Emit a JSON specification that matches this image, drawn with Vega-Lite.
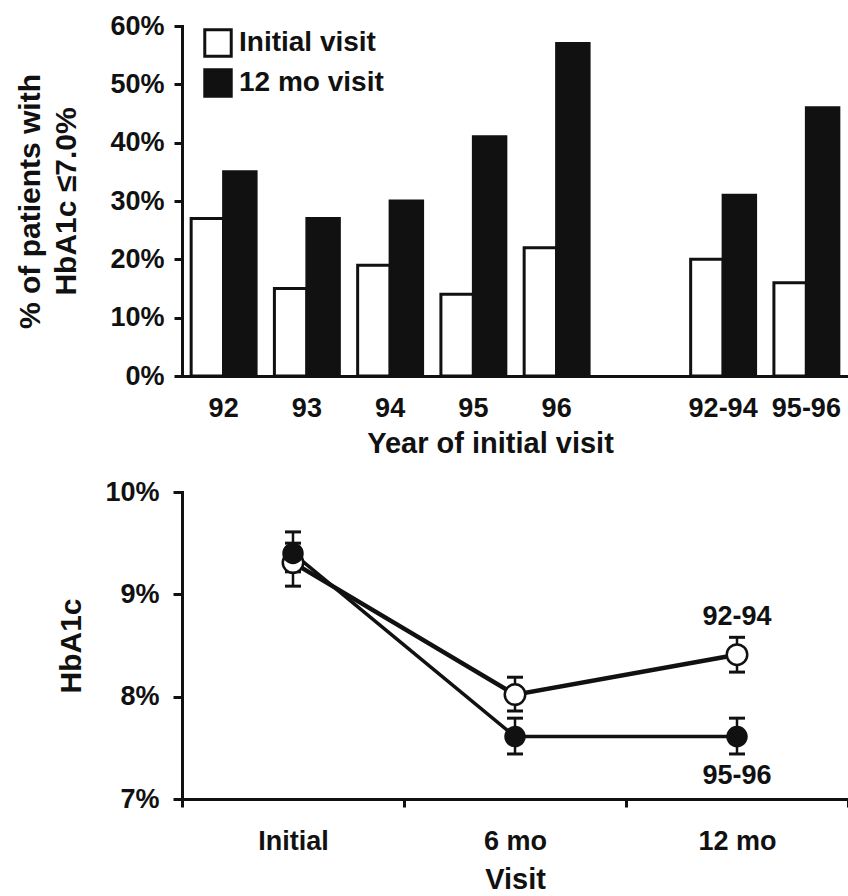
{
  "$schema": "https://vega.github.io/schema/vega-lite/v6.json",
  "background": "white",
  "padding": {"left": 15, "top": 12, "right": 2, "bottom": 0},
  "spacing": 20,
  "config": {
    "font": "Liberation Sans",
    "view": {"stroke": null},
    "axis": {
      "labelFont": "Liberation Sans",
      "titleFont": "Liberation Sans",
      "labelFontWeight": "bold",
      "titleFontWeight": "bold",
      "labelColor": "#111",
      "titleColor": "#111",
      "domainColor": "#111",
      "tickColor": "#111",
      "grid": false,
      "domainWidth": 3,
      "tickWidth": 3,
      "domainCap": "square"
    },
    "legend": {"labelFont": "Liberation Sans", "labelColor": "#111"}
  },
  "vconcat": [
    {
      "width": 666,
      "height": 350,
      "data": {
        "values": [
          {"year": "92", "visit": "Initial visit", "pct": 27},
          {"year": "92", "visit": "12 mo visit", "pct": 35},
          {"year": "93", "visit": "Initial visit", "pct": 15},
          {"year": "93", "visit": "12 mo visit", "pct": 27},
          {"year": "94", "visit": "Initial visit", "pct": 19},
          {"year": "94", "visit": "12 mo visit", "pct": 30},
          {"year": "95", "visit": "Initial visit", "pct": 14},
          {"year": "95", "visit": "12 mo visit", "pct": 41},
          {"year": "96", "visit": "Initial visit", "pct": 22},
          {"year": "96", "visit": "12 mo visit", "pct": 57},
          {"year": "92-94", "visit": "Initial visit", "pct": 20},
          {"year": "92-94", "visit": "12 mo visit", "pct": 31},
          {"year": "95-96", "visit": "Initial visit", "pct": 16},
          {"year": "95-96", "visit": "12 mo visit", "pct": 46}
        ]
      },
      "mark": {"type": "bar", "stroke": "#111", "strokeWidth": 3, "strokeJoin": "miter"},
      "encoding": {
        "x": {
          "field": "year",
          "type": "nominal",
          "sort": null,
          "scale": {
            "domain": ["92", "93", "94", "95", "96", " ", "92-94", "95-96"],
            "paddingInner": 0.22,
            "paddingOuter": 0.11
          },
          "axis": {
            "labelAngle": 0,
            "ticks": false,
            "tickSize": 0,
            "labelPadding": 19,
            "labelFontSize": 27,
            "title": "Year of initial visit",
            "titleFontSize": 29,
            "titlePadding": 8,
            "titleX": 308
          }
        },
        "xOffset": {
          "field": "visit",
          "type": "nominal",
          "scale": {"domain": ["Initial visit", "12 mo visit"], "paddingInner": 0, "paddingOuter": 0}
        },
        "y": {
          "field": "pct",
          "type": "quantitative",
          "scale": {"domain": [0, 60], "nice": false},
          "axis": {
            "values": [0, 10, 20, 30, 40, 50, 60],
            "labelExpr": "datum.value + '%'",
            "tickSize": 8,
            "labelPadding": 10,
            "labelFontSize": 27,
            "title": ["% of patients with", "HbA1c ≤7.0%"],
            "titleFontSize": 30,
            "titleLineHeight": 36,
            "titlePadding": 28
          }
        },
        "fill": {
          "field": "visit",
          "type": "nominal",
          "scale": {"domain": ["Initial visit", "12 mo visit"], "range": ["white", "#111"]},
          "legend": {
            "title": null,
            "orient": "none",
            "legendX": 21,
            "legendY": 2,
            "padding": 0,
            "symbolType": "square",
            "symbolSize": 700,
            "symbolStrokeColor": "#111",
            "symbolStrokeWidth": 3,
            "labelFontSize": 28,
            "labelFontWeight": "bold",
            "labelOffset": 6,
            "rowPadding": 0
          }
        }
      }
    },
    {
      "width": 666,
      "height": 307,
      "data": {
        "values": [
          {"visit": "Initial", "month": 0, "group": "92-94", "hba1c": 9.31, "lo": 9.08, "hi": 9.5},
          {"visit": "6 mo", "month": 6, "group": "92-94", "hba1c": 8.02, "lo": 7.86, "hi": 8.19},
          {"visit": "12 mo", "month": 12, "group": "92-94", "hba1c": 8.41, "lo": 8.24, "hi": 8.58},
          {"visit": "Initial", "month": 0, "group": "95-96", "hba1c": 9.4, "lo": 9.22, "hi": 9.61},
          {"visit": "6 mo", "month": 6, "group": "95-96", "hba1c": 7.61, "lo": 7.44, "hi": 7.79},
          {"visit": "12 mo", "month": 12, "group": "95-96", "hba1c": 7.61, "lo": 7.44, "hi": 7.79}
        ]
      },
      "encoding": {
        "x": {
          "field": "month",
          "type": "quantitative",
          "scale": {"domain": [-3, 15], "nice": false, "zero": false},
          "axis": {
            "values": [-3, 0, 3, 6, 9, 12, 15],
            "labelExpr": "datum.value == 0 ? 'Initial' : datum.value == 6 ? '6 mo' : datum.value == 12 ? '12 mo' : ''",
            "tickOpacity": {"condition": {"test": "datum.value % 6 == 0", "value": 0}, "value": 1},
            "tickSize": 8,
            "labelPadding": 21,
            "labelFontSize": 27,
            "labelFlush": false,
            "labelOverlap": false,
            "title": "Visit",
            "titleFontSize": 29,
            "titlePadding": 11
          }
        }
      },
      "layer": [
        {
          "mark": {"type": "rule", "strokeWidth": 2.5, "color": "#111"},
          "encoding": {
            "y": {
              "field": "lo",
              "type": "quantitative",
              "scale": {"domain": [7, 10], "nice": false, "zero": false},
              "axis": {
                "values": [7, 8, 9, 10],
                "labelExpr": "datum.value + '%'",
                "tickSize": 9,
                "labelPadding": 14,
                "labelFontSize": 27,
                "title": "HbA1c",
                "titleFontSize": 30,
                "titlePadding": 18
              }
            },
            "y2": {"field": "hi"}
          }
        },
        {
          "mark": {"type": "tick", "orient": "horizontal", "size": 16, "thickness": 3, "color": "#111", "opacity": 1},
          "encoding": {"y": {"field": "lo", "type": "quantitative"}}
        },
        {
          "mark": {"type": "tick", "orient": "horizontal", "size": 16, "thickness": 3, "color": "#111", "opacity": 1},
          "encoding": {"y": {"field": "hi", "type": "quantitative"}}
        },
        {
          "mark": {"type": "line", "color": "#111"},
          "encoding": {
            "y": {"field": "hba1c", "type": "quantitative"},
            "detail": {"field": "group", "type": "nominal"},
            "strokeWidth": {"field": "group", "type": "nominal", "scale": {"domain": ["92-94", "95-96"], "range": [4.5, 3.5]}, "legend": null}
          }
        },
        {
          "transform": [{"filter": "datum.group == '92-94'"}],
          "mark": {"type": "point", "shape": "circle", "filled": true, "fill": "white", "stroke": "#111", "strokeWidth": 2.5, "size": 420, "opacity": 1},
          "encoding": {"y": {"field": "hba1c", "type": "quantitative"}}
        },
        {
          "transform": [{"filter": "datum.group == '95-96'"}],
          "mark": {"type": "point", "shape": "circle", "filled": true, "fill": "#111", "size": 460, "opacity": 1},
          "encoding": {"y": {"field": "hba1c", "type": "quantitative"}}
        },
        {
          "transform": [{"filter": "datum.month == 12 && datum.group == '92-94'"}],
          "mark": {"type": "text", "dy": -38, "fontSize": 27, "fontWeight": "bold", "color": "#111"},
          "encoding": {"y": {"field": "hba1c", "type": "quantitative"}, "text": {"field": "group"}}
        },
        {
          "transform": [{"filter": "datum.month == 12 && datum.group == '95-96'"}],
          "mark": {"type": "text", "dy": 39, "fontSize": 27, "fontWeight": "bold", "color": "#111"},
          "encoding": {"y": {"field": "hba1c", "type": "quantitative"}, "text": {"field": "group"}}
        }
      ]
    }
  ]
}
